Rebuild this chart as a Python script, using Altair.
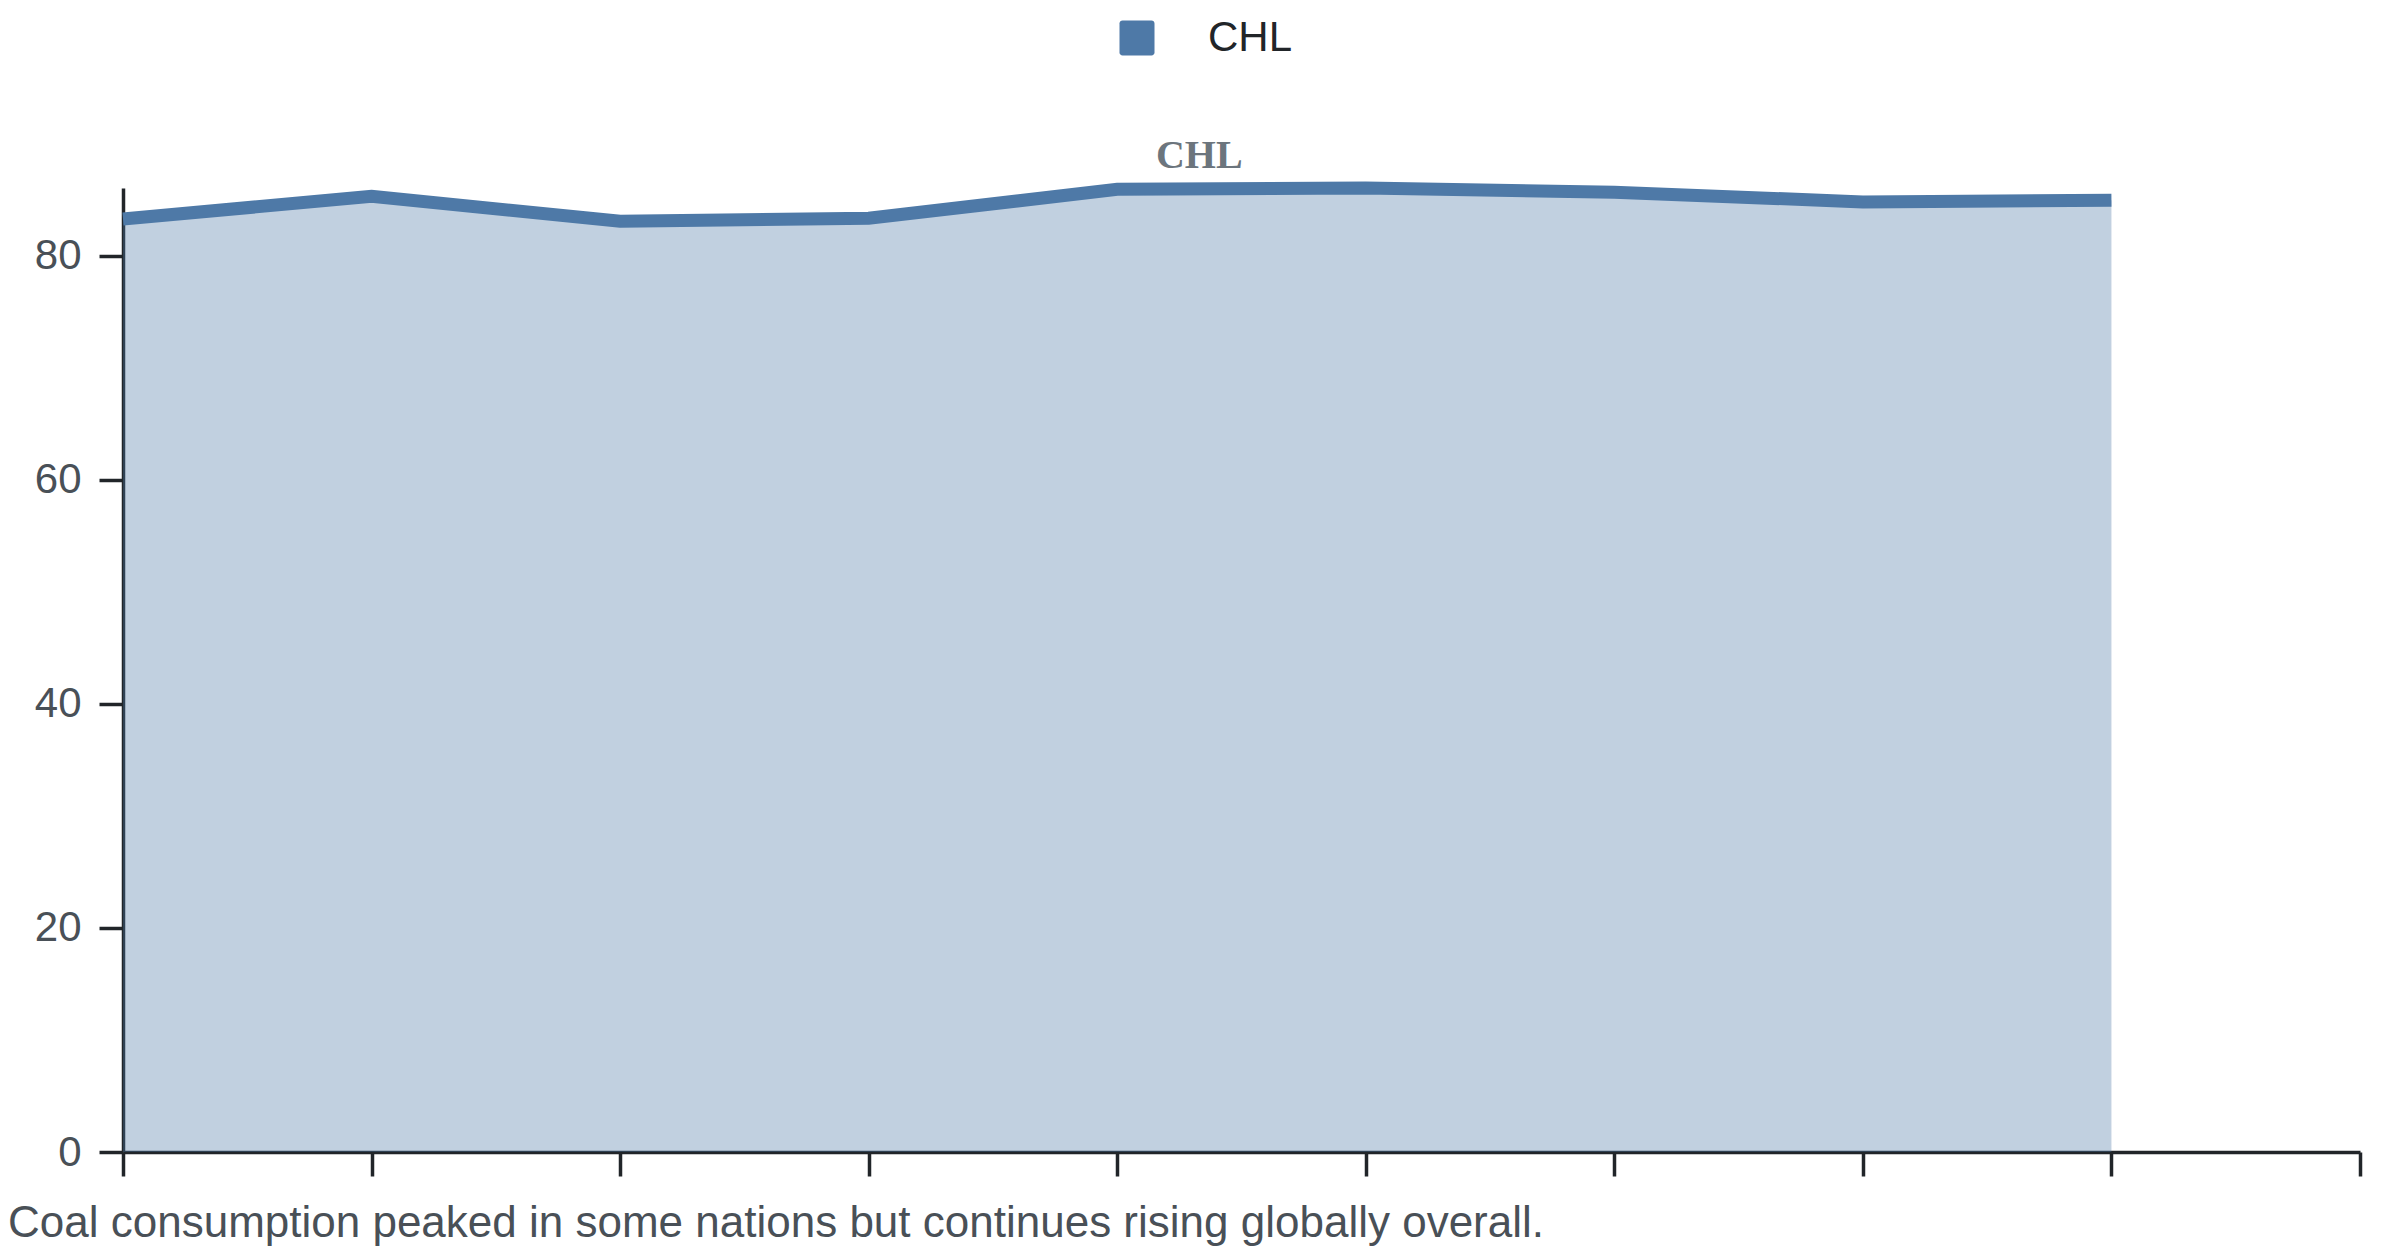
import altair as alt
import pandas as pd

# data
x_index = [0, 1, 2, 3, 4, 5, 6, 7, 8]
values = [83.3, 85.33, 83.1, 83.37, 85.95, 86.07, 85.69, 84.83, 84.98]
series = ["CHL"] * len(values)
caption = "Coal consumption peaked in some nations but continues rising globally overall."

df = pd.DataFrame({"idx": x_index, "value": values, "country": series})

BLUE = "#4e79a7"
ymax = max(values)

rounded_square = ("M -0.83,-1 L 0.83,-1 A 0.17,0.17 0 0 1 1,-0.83 L 1,0.83 "
                  "A 0.17,0.17 0 0 1 0.83,1 L -0.83,1 A 0.17,0.17 0 0 1 -1,0.83 "
                  "L -1,-0.83 A 0.17,0.17 0 0 1 -0.83,-1 Z")

x_enc = alt.X("idx:Q", scale=alt.Scale(domain=[0, 9], nice=False, zero=False),
              axis=alt.Axis(values=list(range(10)), labels=False, title=None, grid=False,
                            domainColor="#212529", domainWidth=3.5, tickColor="#212529",
                            tickWidth=3.5, tickSize=24))
y_enc = alt.Y("value:Q", scale=alt.Scale(domain=[0, ymax], nice=False),
              axis=alt.Axis(values=[0, 20, 40, 60, 80], title=None, grid=False,
                            domainColor="#212529", domainWidth=3.5, tickColor="#212529",
                            tickWidth=3.5, tickSize=24, labelPadding=18,
                            labelFontSize=42, labelColor="#495057",
                            labelFont="Liberation Sans"))
color_enc = alt.Color("country:N", scale=alt.Scale(range=[BLUE]),
                      legend=alt.Legend(title=None, orient="none", legendX=993, legendY=-171,
                                        symbolType=rounded_square, symbolSize=1225,
                                        symbolStrokeWidth=0, symbolOpacity=1,
                                        labelFontSize=42, labelColor="#212529",
                                        labelFont="Liberation Sans", labelOffset=50,
                                        padding=0))

area = alt.Chart(df).mark_area(opacity=0.35, line=False).encode(
    x=x_enc, y=y_enc, color=color_enc)
line = alt.Chart(df).mark_line(strokeWidth=13).encode(
    x="idx:Q", y="value:Q", color=alt.Color("country:N", legend=None))

label = alt.Chart(pd.DataFrame({"t": ["CHL"]})).mark_text(
    font="Liberation Serif", fontWeight="bold", fontSize=40, color="#6c757d",
    baseline="alphabetic", align="center", dy=-20).encode(
    x=alt.datum(4.33), y=alt.datum(ymax), text="t:N")

chart = alt.layer(area, line, label).properties(
    width=2237, height=964,
    padding={"left": 115, "top": 180, "right": 25, "bottom": 102},
    autosize=alt.AutoSizeParams(type="none"),
    title=alt.TitleParams(caption, orient="bottom", anchor="start", frame="group",
                          dx=-115, offset=24, fontSize=44, fontWeight="normal",
                          font="Liberation Sans", color="#495057")
).configure_view(stroke=None)

chart.save("out.html", embed_options={"renderer": "svg", "actions": False})
